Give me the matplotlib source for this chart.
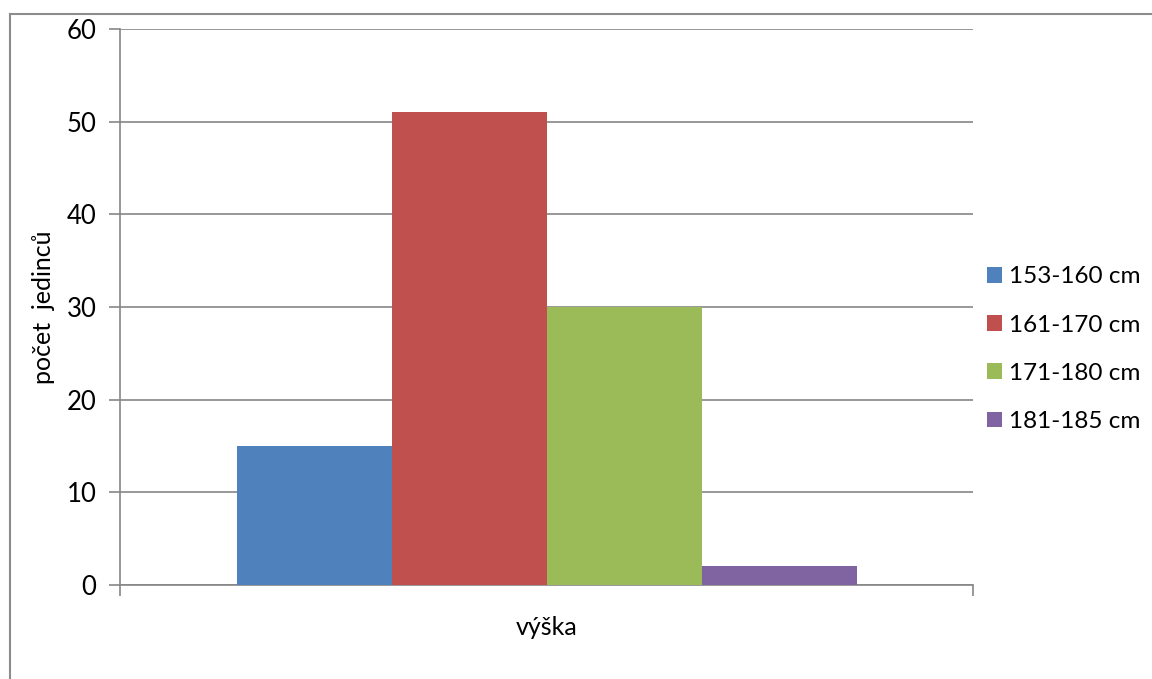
import matplotlib.pyplot as plt
from matplotlib.lines import Line2D

plt.rcParams['font.family'] = ['Lato', 'DejaVu Sans']

# počty jedinců podle výškových skupin
category = 'výška'
groups = ['153-160 cm', '161-170 cm', '171-180 cm', '181-185 cm']
counts = [15, 51, 30, 2]
colors = ['#4F81BD', '#C0504D', '#9BBB59', '#8064A2']

fig = plt.figure(figsize=(11.52, 6.79), dpi=100)
ax = fig.add_axes([120 / 1152, 1 - 585 / 679, 853 / 1152, 556 / 679])

# rámeček kolem celého grafu
frame_color = '#8c8c8c'
fig.add_artist(Line2D([9.5 / 1152, 9.5 / 1152], [0, 1 - 13.5 / 679],
                      transform=fig.transFigure, color=frame_color, lw=1.5))
fig.add_artist(Line2D([9.5 / 1152, 1], [1 - 13.5 / 679, 1 - 13.5 / 679],
                      transform=fig.transFigure, color=frame_color, lw=1.5))

width = 155 / 853
n = len(counts)
for i, (g, v, c) in enumerate(zip(groups, counts, colors)):
    x = (i - (n - 1) / 2) * width
    ax.bar(x, v, width=width, color=c, label=g, zorder=3)

ax.set_xlim(-0.5, 0.5)
ax.set_ylim(0, 60)
ax.set_yticks(range(0, 61, 10))
ax.grid(axis='y', color='#868686', lw=1.2, zorder=0)
ax.set_xticks([-0.5, 0.5])
ax.set_xticklabels(['', ''])
ax.tick_params(axis='x', length=8, color='#868686', width=1.2)
ax.tick_params(axis='y', length=8, color='#868686', width=1.2,
               labelsize=18.5, pad=9)

for side in ['top', 'right']:
    ax.spines[side].set_visible(False)
for side in ['left', 'bottom']:
    ax.spines[side].set_color('#868686')
    ax.spines[side].set_linewidth(1.2)

ax.text(0, -0.055, category, transform=ax.get_xaxis_transform(),
        ha='center', va='top', fontsize=18)
ax.set_ylabel('počet  jedinců', fontsize=18, labelpad=8)

ax.legend(loc='center left', bbox_to_anchor=(1.016, 0.424), frameon=False,
          borderpad=0, borderaxespad=0,
          fontsize=17.5, handlelength=0.62, handleheight=0.62,
          handletextpad=0.3, labelspacing=1.12)

fig.savefig('out.png', dpi=100)
plt.close()
